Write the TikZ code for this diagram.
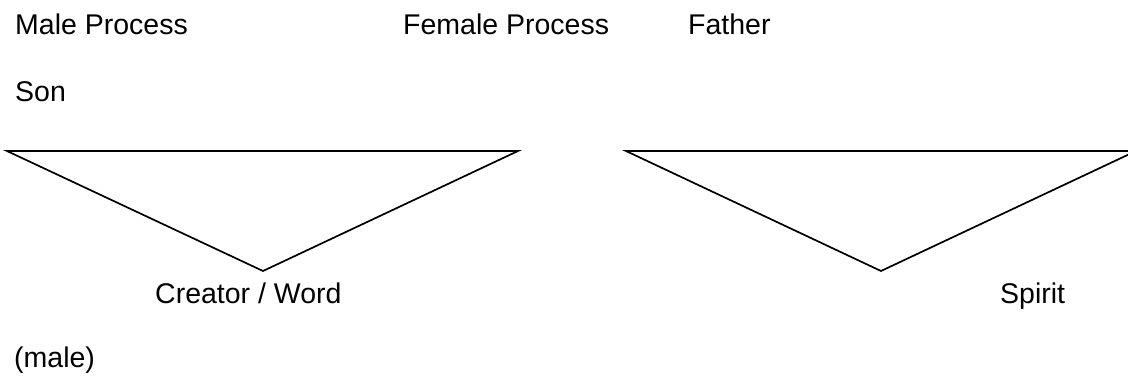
\documentclass[tikz,border=0pt]{standalone}
\usepackage{fontspec}
\setmainfont{Liberation Sans}
\begin{document}
\begin{tikzpicture}[x=1pt,y=-1pt,
  lbl/.style={inner sep=0pt, anchor=base west, font=\fontsize{28.5}{34}\selectfont},
  tri/.style={draw=black, line width=1.7pt, line join=miter}]
\useasboundingbox (0,0) rectangle (1128,378);
\clip (0,0) rectangle (1128,378);
\node[lbl] (male) at (15,34) {Male Process};
\node[lbl] (female) at (403,34) {Female Process};
\node[lbl] (father) at (688,34) {Father};
\node[lbl] (son) at (15,101) {Son};
\node[lbl] (creator) at (155,303) {Creator / Word};
\node[lbl] (spirit) at (1000,303) {Spirit};
\node[lbl] (malep) at (14,367) {(male)};
\coordinate (a1) at (7,151);
\coordinate (a2) at (518,151);
\coordinate (a3) at (263,271);
\coordinate (b1) at (626,151);
\coordinate (b2) at (1136,151);
\coordinate (b3) at (881,271);
\draw[tri] (a1) -- (a2) -- (a3) -- cycle;
\draw[tri] (b1) -- (b2) -- (b3) -- cycle;
\end{tikzpicture}
\end{document}
